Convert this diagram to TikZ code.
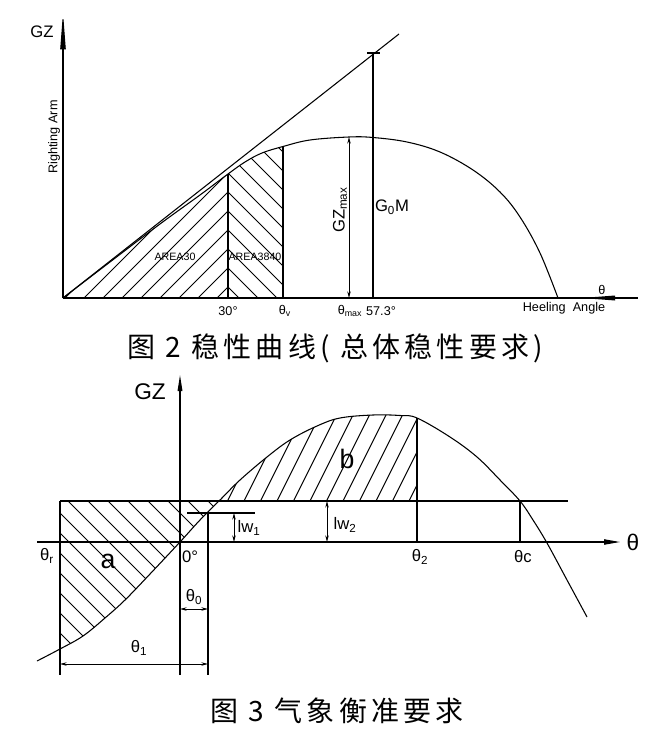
\documentclass[tikz,border=0pt]{standalone}
\usepackage{fontspec}
\setmainfont{Liberation Sans}
\newfontfamily\cjk[LetterSpace=15]{Noto Sans CJK SC}
\usetikzlibrary{arrows.meta}

\newcommand\topcurve{plot[smooth,tension=0.6] coordinates {(63,298) (110,262) (160,224) (200,195) (228,174) (245,162) (262,153) (283,146.5) (310,140) (349,137) (373,137.5) (407,142) (440,152) (473,170) (500,192) (520,217) (540,253) (558,298)}}
\newcommand\botcurve{plot[smooth,tension=0.6] coordinates {(37,661) (60,649) (83,636) (105,618) (125,600) (150,574) (180,542) (200,520) (221,499) (240,480) (267,457) (290,440) (317,426) (340,418) (373,415) (400,415.5) (417,418) (450,437) (477,457) (500,480) (520,501) (533,520) (547,543) (567,580) (587,617)}}

\begin{document}
\begin{tikzpicture}[x=0.75pt,y=-0.75pt,line width=0.8pt,
  hatch/.style={line width=0.7pt},
  dim/.style={{Stealth[length=5pt,width=2.6pt]}-{Stealth[length=5pt,width=2.6pt]},line width=0.6pt},
  small/.style={font=\fontsize{8}{9}\selectfont,inner sep=1pt},
  tick/.style={font=\fontsize{9.5}{11}\selectfont,inner sep=1pt},
  mid/.style={font=\fontsize{12.5}{14}\selectfont,inner sep=1pt},
  big/.style={font=\fontsize{17}{19}\selectfont,inner sep=1pt},
  captxt/.style={font=\cjk\fontsize{21}{24}\selectfont}]
\useasboundingbox (0,0) rectangle (662,731);

% stability curve
\coordinate (O1) at (63,298);
\coordinate (ytop) at (63,12);
\coordinate (xend) at (638,298);
\coordinate (tan) at (399,34);
\coordinate (a30) at (228,298);
\coordinate (a30t) at (228,174);
\coordinate (av) at (283,298);
\coordinate (avt) at (283,146.5);
\coordinate (gmb) at (373,298);
\coordinate (gmt) at (373,53);
\coordinate (gzb) at (349,298);
\coordinate (gzt) at (349,137);

\begin{scope}
  \clip (63,100) rectangle (a30);
  \clip \topcurve -- cycle;
  \foreach \x in {46,65,...,217} \draw[hatch] (\x,298) -- ({\x+200},98);
\end{scope}
\begin{scope}
  \clip (a30t |- 0,100) rectangle (av);
  \clip \topcurve -- cycle;
  \foreach \x in {239,258,...,448} \draw[hatch] (\x,298) -- ({\x-200},98);
\end{scope}

\draw[-{Triangle[length=28pt,width=4pt]}] (O1) -- (ytop);
\draw (O1) -- (xend);
\fill (582,298) -- (615,295.5) -- (615,300.5) -- cycle;
\draw \topcurve;
\draw (O1) -- (tan);
\draw (a30) -- (a30t);
\draw (av) -- (avt);
\draw (gmb) -- (gmt);
\draw (367,53) -- (380,53);
\draw[dim] (gzb) -- (gzt);

\node[mid] (gz1) at (42,32) {GZ};
\node[tick,rotate=90] (arm) at (54,137) {Righting Arm};
\node[small] (ar30) at (175,257) {AREA30};
\node[small] (ar3840) at (255,257) {AREA3840};
\node[tick] (l30) at (228,311) {30°};
\node[tick] (lv) at (285,311) {θ\textsubscript{v}};
\node[tick] (lmax) at (350,311) {θ\textsubscript{max}};
\node[tick] (l573) at (381,311) {57.3°};
\node[mid,rotate=90] (gzmax) at (340,210) {GZ\textsubscript{max}};
\node[mid] (g0m) at (392,207) {G\textsubscript{0}M};
\node[tick] (th1) at (602,290) {θ};
\node[tick] (heel) at (564,308) {Heeling\ \ Angle};

\node[captxt] (cap2) at (335,348) {图 2 稳性曲线( 总体稳性要求)};

% weather criterion
\coordinate (O2) at (180,542);
\coordinate (gzbot) at (180,675);
\coordinate (gztop) at (180,375);
\coordinate (xl) at (37,542);
\coordinate (xr) at (620,542);
\coordinate (w2l) at (60,501);
\coordinate (w2r) at (568,501);
\coordinate (rb) at (60,675);
\coordinate (t0) at (208,513);
\coordinate (t0b) at (208,675);
\coordinate (t2t) at (417,418);
\coordinate (t2b) at (417,542);
\coordinate (tct) at (520,501);
\coordinate (tcb) at (520,542);

\begin{scope}
  \clip (w2l) rectangle (222,700);
  \clip \botcurve -- (587,380) -- (37,380) -- cycle;
  \foreach \c in {-593,-573,...,-273} \draw[hatch] ({\c+480},480) -- ({\c+690},690);
\end{scope}
\begin{scope}
  \clip (200,380) rectangle (417,501);
  \clip \botcurve -- (587,700) -- (37,700) -- cycle;
  \foreach \x in {178,194.5,...,420} \draw[hatch] (\x,501) -- ({\x+50},401);
\end{scope}

\draw[-{Triangle[length=12pt,width=3.5pt]}] (gzbot) -- (gztop);
\draw[-{Triangle[length=12pt,width=4pt]}] (xl) -- (xr);
\draw (w2l) -- (w2r);
\draw (w2l) -- (rb);
\draw \botcurve;
\draw (187,513) -- (255,513);
\draw (t0) -- (t0b);
\draw (t2t) -- (t2b);
\draw (tct) -- (tcb);
\draw[dim] (234,513) -- (234,542);
\draw[dim] (327,501) -- (327,542);
\draw[dim] (O2 |- 0,609) -- (t0 |- 0,609);
\draw[dim] (rb |- 0,664) -- (t0 |- 0,664);

\node[big] (gz2) at (150,392) {GZ};
\node[big] (th2) at (633,542) {θ};
\node[mid] (thr) at (47,556) {θ\textsubscript{r}};
\node[font=\fontsize{20}{22}\selectfont] (la) at (108,561) {a};
\node[font=\fontsize{20}{22}\selectfont] (lb) at (347,459) {b};
\node[mid] (l0) at (190,557) {0°};
\node[mid] (lw1) at (249,528) {lw\textsubscript{1}};
\node[mid] (lw2) at (345,525) {lw\textsubscript{2}};
\node[mid] (lt0) at (194,597) {θ\textsubscript{0}};
\node[mid] (lt1) at (139,648) {θ\textsubscript{1}};
\node[mid] (lt2) at (420,557) {θ\textsubscript{2}};
\node[mid] (ltc) at (523,557) {θc};

\node[captxt] (cap3) at (337,711) {图 3 气象衡准要求};
\end{tikzpicture}
\end{document}
